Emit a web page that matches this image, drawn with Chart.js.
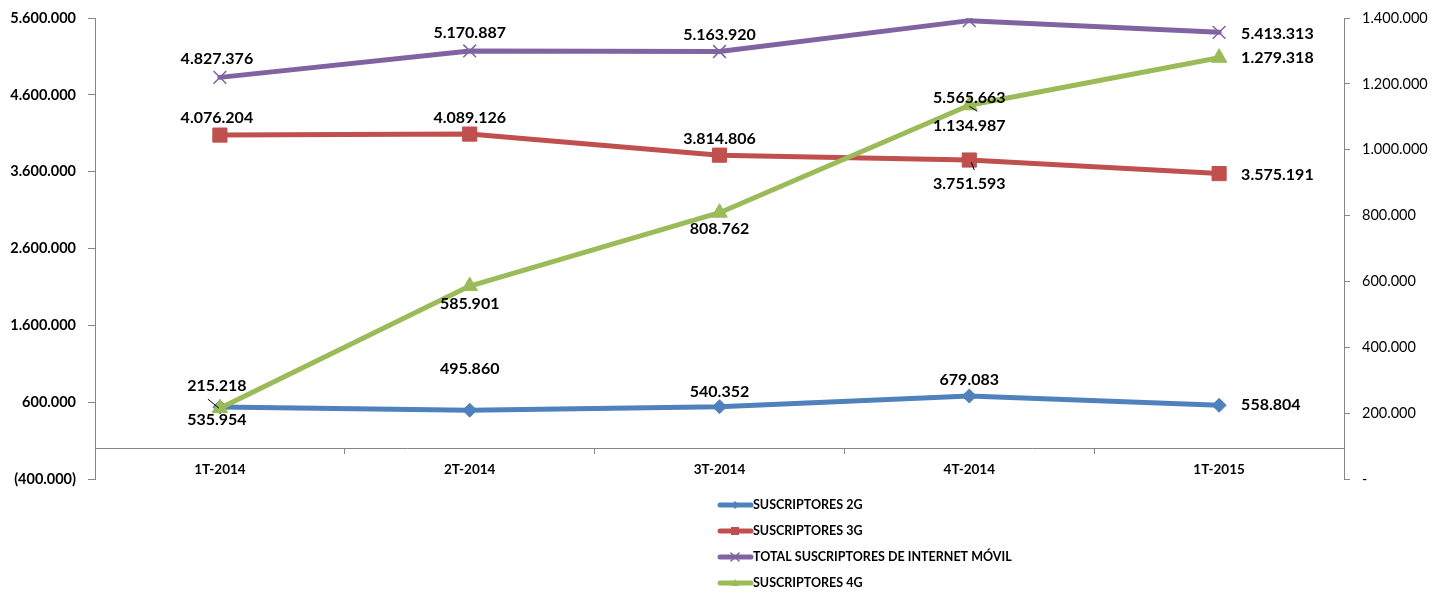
<!DOCTYPE html>
<html>
<head>
<meta charset="utf-8">
<script src="https://cdn.jsdelivr.net/npm/chart.js@4.4.0/dist/chart.umd.min.js"></script>
<style>
  html, body { margin: 0; padding: 0; background: #fff; }
</style>
</head>
<body>
<canvas id="grafico" width="1433" height="593"></canvas>
<script>
// Datos
var trimestres = ['1T-2014', '2T-2014', '3T-2014', '4T-2014', '1T-2015'];
var suscriptores2G = [535954, 495860, 540352, 679083, 558804];
var suscriptores3G = [4076204, 4089126, 3814806, 3751593, 3575191];
var totalInternetMovil = [4827376, 5170887, 5163920, 5565663, 5413313];
var suscriptores4G = [215218, 585901, 808762, 1134987, 1279318];

// Marcas de los ejes
var marcasIzq = [-400000, 600000, 1600000, 2600000, 3600000, 4600000, 5600000];
var marcasDer = [0, 200000, 400000, 600000, 800000, 1000000, 1200000, 1400000];

// Posición de las etiquetas de datos [dx, dy, alineación, línea guía opcional]
var pos2G = [[-3, 13, 'center'], [0, -41, 'center'], [0, -15, 'center'], [0, -16, 'center'], [22, 0, 'left']];
var pos3G = [[-3, -17, 'center'], [0, -16, 'center'], [0, -16, 'center'], [0, 24, 'center', [2, 2, 5, 10]], [22, 1, 'left']];
var posTotal = [[-3, -19, 'center'], [0, -18, 'center'], [0, -17, 'center'], [0, 77, 'center'], [22, 1, 'left']];
var pos4G = [[-3, -22, 'center', [-12, -9, -1, 0]], [0, 18, 'center'], [0, 16, 'center'], [0, 21, 'center', [0, 1, 8, 6]], [22, 0, 'left']];

function formato(v) {
    var s = Math.abs(v).toString().replace(/\B(?=(\d{3})+(?!\d))/g, '.');
    return v < 0 ? '(' + s + ')' : s;
}

// Etiquetas de datos
var etiquetas = {
    id: 'etiquetas',
    afterDatasetsDraw: function (chart) {
        var ctx = chart.ctx;
        chart.data.datasets.forEach(function (ds, i) {
            var meta = chart.getDatasetMeta(i);
            meta.data.forEach(function (pt, j) {
                var p = ds.posEtiquetas[j];
                ctx.save();
                if (p[3]) {
                    ctx.strokeStyle = '#000';
                    ctx.lineWidth = 1;
                    ctx.beginPath();
                    ctx.moveTo(pt.x + p[3][0], pt.y + p[3][1]);
                    ctx.lineTo(pt.x + p[3][2], pt.y + p[3][3]);
                    ctx.stroke();
                }
                ctx.font = 'bold 16px Lato';
                ctx.fillStyle = '#000';
                ctx.textAlign = p[2];
                ctx.textBaseline = 'middle';
                ctx.fillText(formato(ds.data[j]), pt.x + p[0], pt.y + p[1]);
                ctx.restore();
            });
        });
    }
};

// Leyenda vertical abajo
var leyenda = {
    id: 'leyenda',
    afterDraw: function (chart) {
        var ctx = chart.ctx;
        chart.data.datasets.forEach(function (ds, k) {
            var y = 505 + k * 26;
            ctx.save();
            ctx.strokeStyle = ds.borderColor;
            ctx.lineWidth = 5;
            ctx.lineCap = 'round';
            ctx.beginPath();
            ctx.moveTo(720, y);
            ctx.lineTo(751, y);
            ctx.stroke();
            ctx.fillStyle = ds.borderColor;
            ctx.lineWidth = 1.5;
            ctx.beginPath();
            if (ds.pointStyle === 'rectRot') {
                ctx.moveTo(735, y - 4); ctx.lineTo(739, y); ctx.lineTo(735, y + 4); ctx.lineTo(731, y);
                ctx.fill();
            } else if (ds.pointStyle === 'rect') {
                ctx.fillRect(731, y - 4, 8, 8);
            } else if (ds.pointStyle === 'triangle') {
                ctx.moveTo(735, y - 4); ctx.lineTo(739, y + 3); ctx.lineTo(731, y + 3);
                ctx.fill();
            } else {
                ctx.moveTo(731, y - 4); ctx.lineTo(739, y + 4);
                ctx.moveTo(739, y - 4); ctx.lineTo(731, y + 4);
                ctx.stroke();
            }
            ctx.fillStyle = '#000';
            ctx.font = 'bold 12.5px Lato';
            ctx.textAlign = 'left';
            ctx.textBaseline = 'middle';
            ctx.fillText(ds.label, 753, y);
            ctx.restore();
        });
    }
};

var ctx = document.getElementById('grafico').getContext('2d');
var grafico = new Chart(ctx, {
    type: 'line',
    data: {
        labels: trimestres,
        datasets: [{
            label: 'SUSCRIPTORES 2G',
            data: suscriptores2G,
            yAxisID: 'y',
            borderColor: '#4F81BD',
            backgroundColor: '#4F81BD',
            pointStyle: 'rectRot',
            pointRadius: 7,
            posEtiquetas: pos2G,
            order: 3
        }, {
            label: 'SUSCRIPTORES 3G',
            data: suscriptores3G,
            yAxisID: 'y',
            borderColor: '#C0504D',
            backgroundColor: '#C0504D',
            pointStyle: 'rect',
            pointRadius: 10,
            posEtiquetas: pos3G,
            order: 2
        }, {
            label: 'TOTAL SUSCRIPTORES DE INTERNET MÓVIL',
            data: totalInternetMovil,
            yAxisID: 'y',
            borderColor: '#8064A2',
            backgroundColor: '#8064A2',
            pointStyle: 'crossRot',
            pointRadius: 9,
            pointBorderWidth: 1.5,
            posEtiquetas: posTotal,
            order: 1
        }, {
            label: 'SUSCRIPTORES 4G',
            data: suscriptores4G,
            yAxisID: 'y1',
            borderColor: '#9BBB59',
            backgroundColor: '#9BBB59',
            pointStyle: 'triangle',
            pointRadius: 9,
            posEtiquetas: pos4G,
            order: 0
        }]
    },
    options: {
        responsive: false,
        animation: false,
        layout: { padding: { left: 0, right: 0, top: 18, bottom: 114 } },
        elements: {
            line: { borderWidth: 5, tension: 0, borderCapStyle: 'round', borderJoinStyle: 'round' },
            point: { borderWidth: 1 }
        },
        plugins: {
            legend: { display: false },
            tooltip: { enabled: false }
        },
        scales: {
            x: {
                position: { y: 0 },
                offset: true,
                afterFit: function (s) { s.height = 0; s.paddingLeft = 0; s.paddingRight = 0; },
                grid: { offset: true, drawOnChartArea: false, tickLength: 5, color: '#868686' },
                border: { color: '#868686', width: 1 },
                ticks: { color: '#000', font: { family: 'Lato', size: 13.5, weight: 'bold' }, padding: 8, maxRotation: 0 }
            },
            y: {
                position: 'left',
                min: -400000,
                max: 5600000,
                afterFit: function (s) { s.width = 95; s.paddingTop = 0; s.paddingBottom = 0; },
                afterBuildTicks: function (s) { s.ticks = marcasIzq.map(function (v) { return { value: v }; }); },
                grid: { drawOnChartArea: false, tickLength: 7, color: '#868686' },
                border: { color: '#868686', width: 1 },
                ticks: {
                    color: '#000', padding: 12,
                    font: { family: 'Lato', size: 14.5, weight: 'bold' },
                    callback: function (v) { return formato(v); }
                }
            },
            y1: {
                position: 'right',
                min: 0,
                max: 1400000,
                afterFit: function (s) { s.width = 89; s.paddingTop = 0; s.paddingBottom = 0; },
                afterBuildTicks: function (s) { s.ticks = marcasDer.map(function (v) { return { value: v }; }); },
                grid: { drawOnChartArea: false, tickLength: 6, color: '#868686' },
                border: { color: '#868686', width: 1 },
                ticks: {
                    color: '#000', padding: 12,
                    font: { family: 'Lato', size: 14.5 },
                    callback: function (v) { return v === 0 ? '-' : formato(v); }
                }
            }
        }
    },
    plugins: [etiquetas, leyenda]
});
</script>
</body>
</html>
